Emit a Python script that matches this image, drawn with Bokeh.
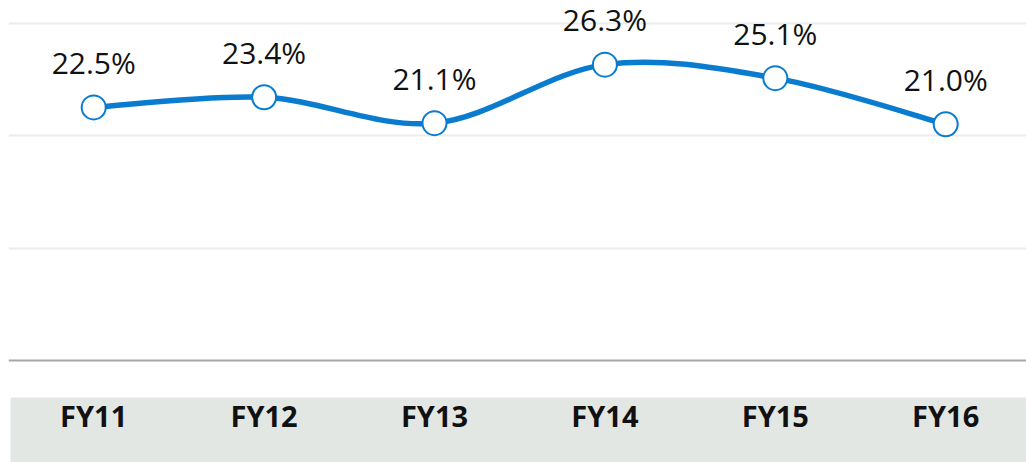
from bokeh.plotting import figure
from bokeh.models import ColumnDataSource, BoxAnnotation, Span, FixedTicker, Range1d
from bokeh.core.properties import value
from bokeh.embed import file_html
from bokeh.resources import INLINE

categories = ["FY11", "FY12", "FY13", "FY14", "FY15", "FY16"]
values = [22.5, 23.4, 21.1, 26.3, 25.1, 21.0]
labels = [f"{v:.1f}%" for v in values]

BLUE = "#0A7CCF"
xs = list(range(len(categories)))

p = figure(width=1026, height=462, output_backend="svg", toolbar_location=None,
           x_range=Range1d(-0.5, -0.5 + 1018 / 170.4),
           y_range=Range1d(-102 / 11.25, 352 / 11.25),
           min_border=0, min_border_left=8, min_border_right=0,
           min_border_top=8, min_border_bottom=0)
p.outline_line_color = None
p.axis.visible = False
p.xgrid.visible = False
p.ygrid.ticker = FixedTicker(ticks=[10, 20, 30])
p.ygrid.grid_line_color = "#ececec"
p.ygrid.grid_line_width = 2
p.background_fill_color = "white"
p.border_fill_color = "white"

# baseline
p.add_layout(Span(location=0, dimension="width", line_color="#a6a6a6", line_width=2))

# category band
p.add_layout(BoxAnnotation(top=-37 / 11.25, left=-0.488, fill_color="#e3e7e4",
                           fill_alpha=1.0, line_color=None, level="underlay"))

# smoothed line via bezier segments (Catmull-Rom style control points)
n = len(values)
x0, y0, x1, y1, cx0, cy0, cx1, cy1 = [], [], [], [], [], [], [], []
for i in range(n - 1):
    xp = xs[i - 1] if i > 0 else xs[i]
    yp = values[i - 1] if i > 0 else values[i]
    xn = xs[i + 2] if i + 2 < n else xs[i + 1]
    yn = values[i + 2] if i + 2 < n else values[i + 1]
    x0.append(xs[i]); y0.append(values[i])
    x1.append(xs[i + 1]); y1.append(values[i + 1])
    cx0.append(xs[i] + (xs[i + 1] - xp) / 6); cy0.append(values[i] + (values[i + 1] - yp) / 6)
    cx1.append(xs[i + 1] - (xn - xs[i]) / 6); cy1.append(values[i + 1] - (yn - values[i]) / 6)
bsrc = ColumnDataSource(dict(x0=x0, y0=y0, x1=x1, y1=y1, cx0=cx0, cy0=cy0, cx1=cx1, cy1=cy1))
p.bezier(x0="x0", y0="y0", x1="x1", y1="y1", cx0="cx0", cy0="cy0", cx1="cx1", cy1="cy1",
         source=bsrc, line_color=BLUE, line_width=5.5)

src = ColumnDataSource(dict(x=xs, y=values, label=labels, cat=categories,
                            ly=[-55 / 11.25] * n))
p.scatter("x", "y", source=src, size=24, fill_color="white", line_color=BLUE, line_width=2)

p.text("x", "y", text="label", source=src, text_align="center", text_baseline="alphabetic",
       y_offset=-45, text_font=value("Open Sans"), text_font_size="30px", text_color="#111111")

p.text("x", "ly", text="cat", source=src, text_align="center", text_baseline="alphabetic",
       text_font=value("Open Sans"), text_font_style="bold", text_font_size="29px",
       text_color="#111111")

open("out.html", "w").write(file_html(p, INLINE))
